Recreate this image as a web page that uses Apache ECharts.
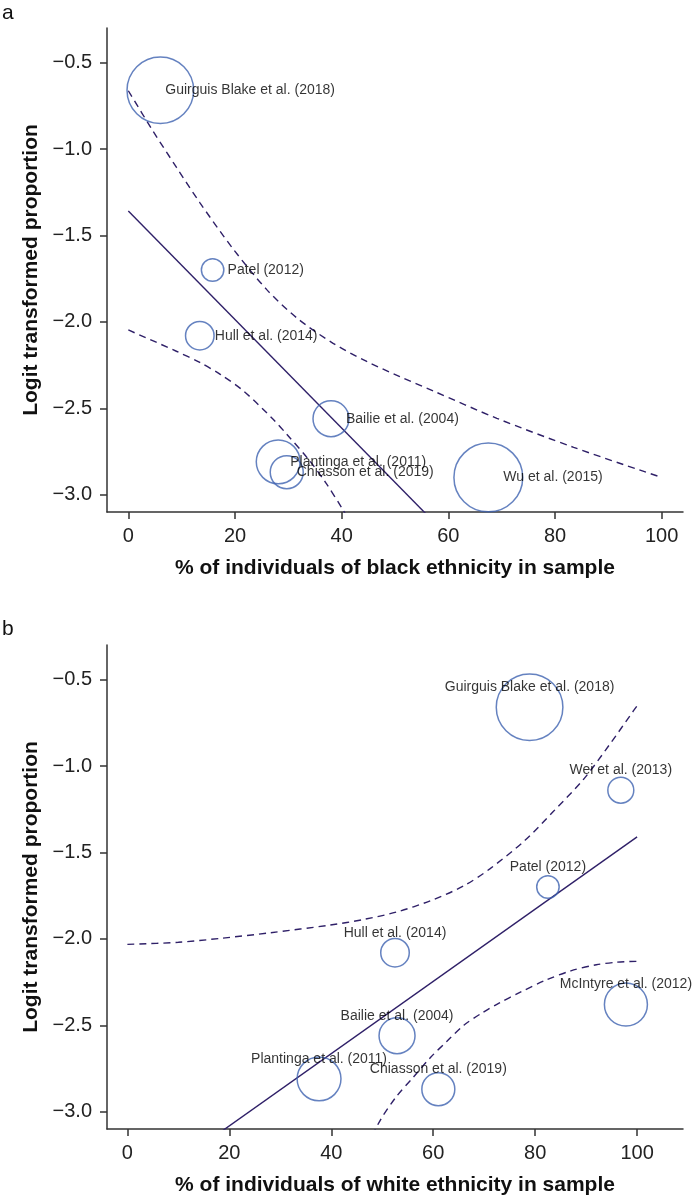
<!DOCTYPE html>
<html>
<head>
<meta charset="utf-8">
<script src="https://cdn.jsdelivr.net/npm/echarts@6/dist/echarts.min.js"></script>
<style>
html, body { margin: 0; padding: 0; background: #fff; }
#main { width: 692px; height: 1200px; }
</style>
</head>
<body>
<div id="main"></div>
<script>
// ---- data ----
// panel a: % black ethnicity
var aStudy = ['Guirguis Blake et al. (2018)', 'Patel (2012)', 'Hull et al. (2014)', 'Bailie et al. (2004)',
              'Plantinga et al. (2011)', 'Chiasson et al. (2019)', 'Wu et al. (2015)'];
var aPct = [6.0, 15.8, 13.4, 38.0, 28.1, 29.7, 67.5];
var aLogit = [-0.66, -1.70, -2.08, -2.56, -2.81, -2.87, -2.90];
var aWeight = [60, 6.8, 11, 17.5, 26, 14.7, 64];

var aFitX = [0, 100];
var aFitY = [-1.359, -4.498];
var aUpX = [0, 4.5, 9, 13.4, 19.7, 26, 31.7, 38.4, 44.7, 50.9, 57.2, 69.1, 83.5, 100];
var aUpY = [-0.663, -0.89, -1.105, -1.31, -1.58, -1.815, -1.98, -2.124, -2.229, -2.317, -2.40, -2.558, -2.726, -2.90];
var aLoX = [0, 9, 13.4, 17.3, 21.6, 27.2, 29.7, 33.9, 37, 40.1, 42];
var aLoY = [-2.047, -2.17, -2.235, -2.305, -2.40, -2.565, -2.65, -2.80, -2.93, -3.08, -3.18];

// panel b: % white ethnicity
var bStudy = ['Guirguis Blake et al. (2018)', 'Wei et al. (2013)', 'Patel (2012)', 'Hull et al. (2014)',
              'Bailie et al. (2004)', 'Plantinga et al. (2011)', 'Chiasson et al. (2019)', 'McIntyre et al. (2012)'];
var bPct = [78.9, 96.8, 82.5, 52.5, 52.9, 37.6, 61.0, 97.8];
var bLogit = [-0.66, -1.14, -1.70, -2.08, -2.56, -2.81, -2.87, -2.38];
var bWeight = [60, 9.1, 6.8, 11, 17.5, 26, 14.7, 25];

var bFitX = [0, 100];
var bFitY = [-3.50, -1.41];
var bUpX = [0, 10, 18.3, 28, 39.8, 46.3, 52.8, 59.4, 65.9, 71.1, 78, 83.5, 89.4, 94.5, 99.3, 100];
var bUpY = [-2.032, -2.02, -1.997, -1.965, -1.92, -1.888, -1.845, -1.78, -1.695, -1.595, -1.43, -1.265, -1.08, -0.88, -0.68, -0.652];
var bLoX = [47, 49.6, 52.7, 56.1, 59.5, 62.6, 66, 69.5, 73, 77, 82, 87, 92, 96, 100];
var bLoY = [-3.2, -3.05, -2.915, -2.80, -2.685, -2.595, -2.50, -2.43, -2.37, -2.31, -2.24, -2.185, -2.15, -2.135, -2.13];

var xTicks = [0, 20, 40, 60, 80, 100];
var yTicks = [-3, -2.5, -2, -1.5, -1, -0.5];

// ---- styles ----
var FONT = "'Liberation Sans', Arial, Helvetica, sans-serif";
var circleColor = '#3f63b0';
var lineColor = '#2f2068';
var axisColor = '#333';
// label nudges (px) where the original label sits off the usual spot
var aLabelNudge = { 'Guirguis Blake et al. (2018)': [5, 0], 'Chiasson et al. (2019)': [10, 0], 'Plantinga et al. (2011)': [12, 0] };

function zip(xs, ys) {
  return xs.map(function (x, i) { return [x, ys[i]]; });
}
function bubbleSize(w) {
  return 8.6 * Math.sqrt(w);
}
function fmtY(v) {
  return (v < 0 ? '\u2212' : '') + Math.abs(v).toFixed(1);
}

function xAxis(idx, max, name) {
  return {
    type: 'value', gridIndex: idx, min: -4, max: max,
    name: name, nameLocation: 'middle', nameGap: 46,
    nameTextStyle: { fontFamily: FONT, fontSize: 21, fontWeight: 'bold', color: '#111' },
    axisLine: { show: true, onZero: false, lineStyle: { color: axisColor, width: 1.5 } },
    axisTick: { show: true, length: 7, customValues: xTicks, lineStyle: { color: axisColor, width: 1.5 } },
    axisLabel: { customValues: xTicks, margin: 14, fontFamily: FONT, fontSize: 20, color: '#222' },
    splitLine: { show: false }
  };
}
function yAxis(idx) {
  return {
    type: 'value', gridIndex: idx, min: -3.1, max: -0.3,
    name: 'Logit transformed proportion', nameLocation: 'middle', nameGap: 60,
    nameTextStyle: { fontFamily: FONT, fontSize: 21, fontWeight: 'bold', color: '#111' },
    axisLine: { show: true, onZero: false, lineStyle: { color: axisColor, width: 1.5 } },
    axisTick: { show: true, length: 7, customValues: yTicks, lineStyle: { color: axisColor, width: 1.5 } },
    axisLabel: { customValues: yTicks, margin: 15, formatter: fmtY, fontFamily: FONT, fontSize: 20, color: '#222' },
    splitLine: { show: false }
  };
}

function bubbles(idx, names, xs, ys, ws, label, nudge) {
  return {
    type: 'scatter', xAxisIndex: idx, yAxisIndex: idx, z: 5,
    data: xs.map(function (x, i) {
      var d = { name: names[i], value: [x, ys[i]] };
      if (nudge && nudge[names[i]]) d.label = { offset: nudge[names[i]] };
      return d;
    }),
    symbol: 'circle',
    symbolSize: function (val, p) { return bubbleSize(ws[p.dataIndex]); },
    itemStyle: { color: 'rgba(0,0,0,0)', borderColor: circleColor, borderWidth: 1.5 },
    label: Object.assign({
      show: true, formatter: '{b}', fontFamily: FONT, fontSize: 14, color: '#000', textBorderWidth: 0
    }, label),
    emphasis: { disabled: true }
  };
}
function line(idx, xs, ys, dashed) {
  return {
    type: 'line', xAxisIndex: idx, yAxisIndex: idx, z: 3,
    data: zip(xs, ys), symbol: 'none', smooth: dashed ? 0.3 : false, clip: true,
    lineStyle: { color: lineColor, width: 1.4, type: dashed ? [7, 5] : 'solid' }
  };
}

var chart = echarts.init(document.getElementById('main'), null, { renderer: 'canvas' });
chart.setOption({
  animation: false,
  backgroundColor: '#fff',
  grid: [
    { left: 107, top: 28, width: 576, height: 484 },
    { left: 107, top: 645, width: 576, height: 484 }
  ],
  graphic: [
    { type: 'text', left: 2, top: 3, style: { text: 'a', font: '21px ' + FONT, fill: '#111' } },
    { type: 'text', left: 2, top: 619, style: { text: 'b', font: '21px ' + FONT, fill: '#111' } }
  ],
  xAxis: [
    xAxis(0, 104, '% of individuals of black ethnicity in sample'),
    xAxis(1, 109, '% of individuals of white ethnicity in sample')
  ],
  yAxis: [yAxis(0), yAxis(1)],
  series: [
    line(0, aFitX, aFitY, false),
    line(0, aUpX, aUpY, true),
    line(0, aLoX, aLoY, true),
    bubbles(0, aStudy, aPct, aLogit, aWeight, { position: 'inside', align: 'left', offset: [15, 0] }, aLabelNudge),
    line(1, bFitX, bFitY, false),
    line(1, bUpX, bUpY, true),
    line(1, bLoX, bLoY, true),
    bubbles(1, bStudy, bPct, bLogit, bWeight, { position: 'inside', align: 'center', offset: [0, -20] }, null)
  ]
});
</script>
</body>
</html>
